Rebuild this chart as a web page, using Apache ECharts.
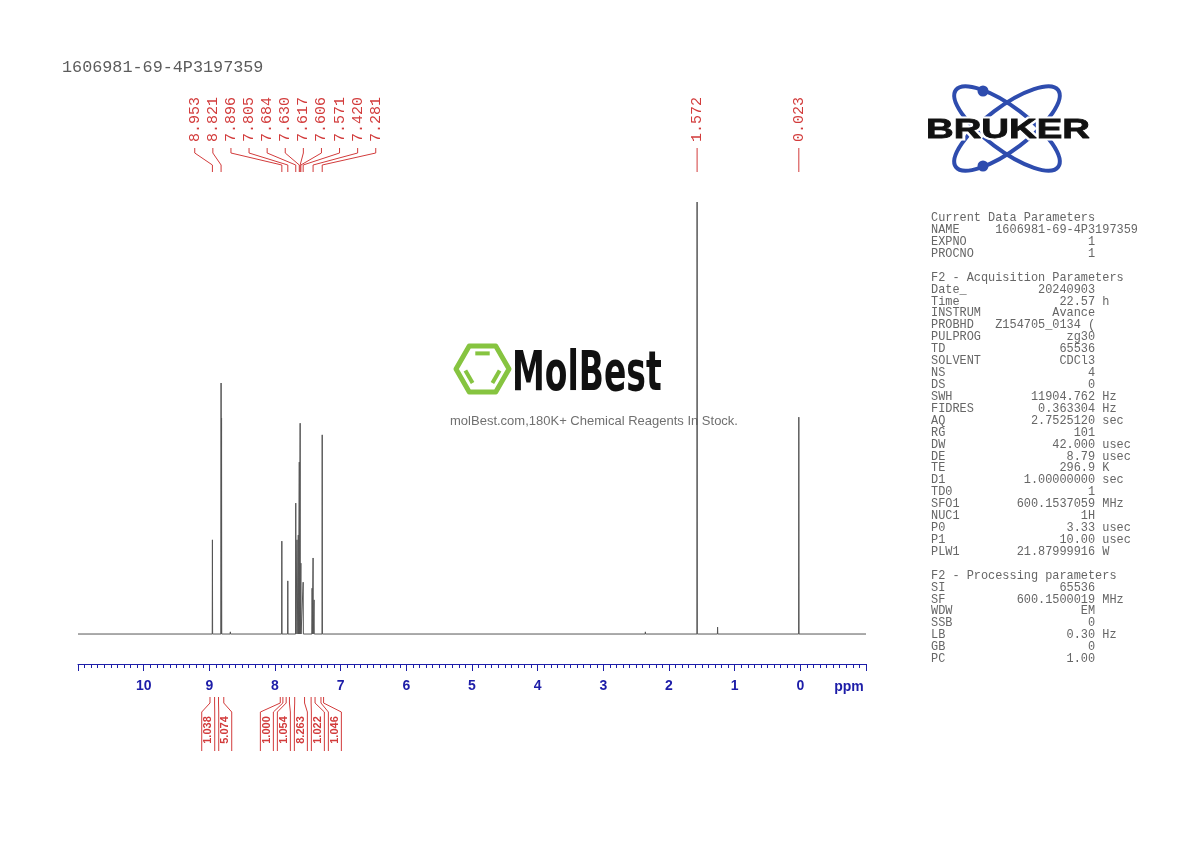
<!DOCTYPE html>
<html>
<head>
<meta charset="utf-8">
<title>1606981-69-4P3197359</title>
<script src="https://cdn.jsdelivr.net/npm/echarts@6/dist/echarts.min.js"></script>
<style>
    html, body { margin: 0; padding: 0; background: #fff; }
    #nmr-chart { width: 1190px; height: 842px; }
</style>
</head>
<body>
<div id="nmr-chart"></div>
<script>
// 峰位置 (ppm) 和峰高 (最高峰 = 100)
const peakPpm = [8.953, 8.821, 8.814, 8.680, 7.896, 7.805, 7.684, 7.665, 7.645, 7.630, 7.617, 7.606, 7.571,
    7.435, 7.420, 7.405, 7.281, 2.360, 1.572, 1.260, 0.870, 0.023];
const peakHeight = [21.8, 58.1, 50.0, 0.5, 21.5, 12.3, 30.3, 21.8, 22.9, 39.8, 48.8, 16.4, 12.0,
    10.6, 17.6, 7.9, 46.1, 0.5, 100, 1.6, 0.3, 50.2];

// 峰标注
const peakLabels = ['8.953', '8.821', '7.896', '7.805', '7.684', '7.630', '7.617', '7.606', '7.571', '7.420', '7.281', '1.572', '0.023'];

// 积分区间
const integralFrom = [8.99, 8.86, 7.92, 7.83, 7.70, 7.45, 7.30];
const integralTo = [8.92, 8.78, 7.88, 7.78, 7.55, 7.39, 7.26];
const integralValues = ['1.038', '5.074', '1.000', '1.054', '8.263', '1.022', '1.046'];

// 坐标刻度
const ppmTicks = [10, 9, 8, 7, 6, 5, 4, 3, 2, 1, 0];

// 参数表
const currentParams = [['NAME', '1606981-69-4P3197359', ''], ['EXPNO', '1', ''], ['PROCNO', '1', '']];
const acquisitionParams = [
    ['Date_', '20240903', ''], ['Time', '22.57', 'h'], ['INSTRUM', 'Avance', ''],
    ['PROBHD', 'Z154705_0134 (', ''], ['PULPROG', 'zg30', ''], ['TD', '65536', ''],
    ['SOLVENT', 'CDCl3', ''], ['NS', '4', ''], ['DS', '0', ''],
    ['SWH', '11904.762', 'Hz'], ['FIDRES', '0.363304', 'Hz'], ['AQ', '2.7525120', 'sec'],
    ['RG', '101', ''], ['DW', '42.000', 'usec'], ['DE', '8.79', 'usec'],
    ['TE', '296.9', 'K'], ['D1', '1.00000000', 'sec'], ['TD0', '1', ''],
    ['SFO1', '600.1537059', 'MHz'], ['NUC1', '1H', ''], ['P0', '3.33', 'usec'],
    ['P1', '10.00', 'usec'], ['PLW1', '21.87999916', 'W']
];
const processingParams = [
    ['SI', '65536', ''], ['SF', '600.1500019', 'MHz'], ['WDW', 'EM', ''],
    ['SSB', '0', ''], ['LB', '0.30', 'Hz'], ['GB', '0', ''], ['PC', '1.00', '']
];

const sampleName = '1606981-69-4P3197359';

const axisBlue = '#1d1da8';
const labelRed = '#d23b3b';

// 谱线: 每个峰画成窄尖峰
function spectrumData() {
    let data = [[11, 0]];
    peakPpm.forEach((p, i) => {
        data.push([p + 0.003, 0], [p, peakHeight[i]], [p - 0.003, 0]);
    });
    data.push([-1, 0]);
    return data;
}

function paramRow(r) {
    let s = r[0].padEnd(9) + r[1].padStart(14);
    return r[2] ? s + ' ' + r[2] : s;
}

function paramText() {
    let lines = ['Current Data Parameters'].concat(currentParams.map(paramRow));
    lines.push('', 'F2 - Acquisition Parameters');
    lines = lines.concat(acquisitionParams.map(paramRow));
    lines.push('', 'F2 - Processing parameters');
    lines = lines.concat(processingParams.map(paramRow));
    return lines.join('\n');
}

// 标注位置: 相距太近的标注成组均匀展开
function spreadSlots(xs, gap) {
    let groups = [];
    xs.forEach((x) => {
        groups.push({n: 1, sum: x});
        while (groups.length > 1) {
            let b = groups[groups.length - 1];
            let a = groups[groups.length - 2];
            let aEnd = a.sum / a.n + (a.n - 1) * gap / 2;
            let bStart = b.sum / b.n - (b.n - 1) * gap / 2;
            if (bStart - aEnd >= gap) {
                break;
            }
            a.n += b.n;
            a.sum += b.sum;
            groups.pop();
        }
    });
    let out = [];
    groups.forEach((g) => {
        let c = g.sum / g.n;
        for (let k = 0; k < g.n; k++) {
            out.push(c + (k - (g.n - 1) / 2) * gap);
        }
    });
    return out;
}

function hexagon(cx, cy, r) {
    let pts = [];
    for (let k = 0; k < 6; k++) {
        let a = k * Math.PI / 3;
        pts.push([cx + r * Math.cos(a), cy + r * Math.sin(a)]);
    }
    return pts;
}

function innerBond(cx, cy, pts, i, j) {
    let s = 0.68;
    let p = [cx + (pts[i][0] - cx) * s, cy + (pts[i][1] - cy) * s];
    let q = [cx + (pts[j][0] - cx) * s, cy + (pts[j][1] - cy) * s];
    let t = 0.1;
    return [[p[0] + (q[0] - p[0]) * t, p[1] + (q[1] - p[1]) * t],
        [q[0] + (p[0] - q[0]) * t, q[1] + (p[1] - q[1]) * t]];
}

const hexCx = 482.5, hexCy = 369, hexR = 26.5;
const hexPts = hexagon(hexCx, hexCy, hexR);
const molGreen = '#86c440';
const brukerBlue = '#2e4cae';

let chart = echarts.init(document.getElementById('nmr-chart'));

let option = {
    animation: false,
    grid: {left: 78, right: 324, top: 202, bottom: 178},
    xAxis: {
        type: 'value',
        min: -1,
        max: 11,
        interval: 1,
        inverse: true,
        axisLine: {onZero: false, lineStyle: {color: axisBlue, width: 1}},
        axisTick: {length: 7, lineStyle: {color: axisBlue}},
        minorTick: {show: true, splitNumber: 10, length: 4, lineStyle: {color: axisBlue}},
        axisLabel: {
            margin: 15,
            color: axisBlue,
            fontSize: 14,
            fontWeight: 'bold',
            fontFamily: 'Liberation Sans',
            formatter: (v) => ppmTicks.indexOf(v) >= 0 ? String(v) : ''
        },
        splitLine: {show: false}
    },
    yAxis: {type: 'value', min: -6.94, max: 100, show: false},
    graphic: [
        {
            type: 'text', x: 62, y: 68, z: 0,
            style: {text: sampleName, font: '16.8px "Liberation Mono"', fill: '#5c5c5c', align: 'left', verticalAlign: 'middle'}
        },
        {
            type: 'text', x: 849, y: 687, z: 0,
            style: {text: 'ppm', font: 'bold 14px "Liberation Sans"', fill: axisBlue, align: 'center', verticalAlign: 'middle'}
        },
        {
            type: 'text', x: 931, y: 212, z: 0,
            style: {text: paramText(), font: '11.9px "Liberation Mono"', lineHeight: 11.92, fill: '#666', align: 'left', verticalAlign: 'top'}
        },
        // BRUKER 标志
        {
            type: 'ellipse', x: 1007, y: 128.5, rotation: -37 * Math.PI / 180, z: 0,
            shape: {cx: 0, cy: 0, rx: 64, ry: 21.5},
            style: {fill: null, stroke: brukerBlue, lineWidth: 4}
        },
        {
            type: 'ellipse', x: 1007, y: 128.5, rotation: 37 * Math.PI / 180, z: 0,
            shape: {cx: 0, cy: 0, rx: 64, ry: 21.5},
            style: {fill: null, stroke: brukerBlue, lineWidth: 4}
        },
        {type: 'circle', z: 0, shape: {cx: 983, cy: 91, r: 5.5}, style: {fill: brukerBlue}},
        {type: 'circle', z: 0, shape: {cx: 983, cy: 166, r: 5.5}, style: {fill: brukerBlue}},
        {
            type: 'text', x: 1008, y: 130, scaleX: 1.37, z: 1,
            style: {text: 'BRUKER', font: 'bold 28px "Liberation Sans"', fill: '#fff', stroke: '#fff', lineWidth: 5, align: 'center', verticalAlign: 'middle'}
        },
        {
            type: 'text', x: 1008, y: 130, scaleX: 1.37, z: 2,
            style: {text: 'BRUKER', font: 'bold 28px "Liberation Sans"', fill: '#111', stroke: '#111', lineWidth: 0.8, align: 'center', verticalAlign: 'middle'}
        },
        // MolBest 水印
        {
            type: 'polygon', z: 0,
            shape: {points: hexPts},
            style: {fill: null, stroke: molGreen, lineWidth: 5, lineJoin: 'round'}
        },
        {type: 'polyline', z: 0, shape: {points: innerBond(hexCx, hexCy, hexPts, 4, 5)}, style: {stroke: molGreen, lineWidth: 4}},
        {type: 'polyline', z: 0, shape: {points: innerBond(hexCx, hexCy, hexPts, 2, 3)}, style: {stroke: molGreen, lineWidth: 4}},
        {type: 'polyline', z: 0, shape: {points: innerBond(hexCx, hexCy, hexPts, 0, 1)}, style: {stroke: molGreen, lineWidth: 4}},
        {
            type: 'text', x: 512, y: 376, scaleX: 0.6, z: 0,
            style: {text: 'MolBest', font: 'bold 55px "DejaVu Sans"', fill: '#111', align: 'left', verticalAlign: 'middle'}
        },
        {
            type: 'text', x: 594, y: 421, z: 0,
            style: {text: 'molBest.com,180K+ Chemical Reagents In Stock.', font: '13px "Liberation Sans"', fill: '#707070', align: 'center', verticalAlign: 'middle'}
        }
    ],
    series: [
        {
            id: 'spectrum',
            type: 'line',
            data: spectrumData(),
            showSymbol: false,
            silent: true,
            z: 3,
            lineStyle: {color: '#555', width: 1}
        }
    ]
};
chart.setOption(option);

// 根据坐标轴换算标注位置
let peakX = peakLabels.map((l) => chart.convertToPixel({xAxisIndex: 0}, parseFloat(l)));
let peakSlots = spreadSlots(peakX, 18.1);
let integralX = integralFrom.map((f, i) => chart.convertToPixel({xAxisIndex: 0}, (f + integralTo[i]) / 2));
let integralSlots = spreadSlots(integralX, 17);

chart.setOption({
    series: [
        {id: 'spectrum'},
        {
            id: 'peak-labels',
            type: 'custom',
            coordinateSystem: 'cartesian2d',
            clip: false,
            silent: true,
            data: peakLabels.map((l) => [parseFloat(l), 0]),
            encode: {x: 0, y: 1},
            renderItem: (params, api) => {
                let i = params.dataIndex;
                let px = api.coord([api.value(0), 0])[0];
                let sx = peakSlots[i];
                return {
                    type: 'group',
                    children: [
                        {
                            type: 'text', x: sx, y: 119.5, rotation: Math.PI / 2,
                            style: {text: peakLabels[i], font: '15px "Liberation Mono"', fill: labelRed, align: 'center', verticalAlign: 'middle'}
                        },
                        {
                            type: 'polyline',
                            shape: {points: [[sx, 148], [sx, 153], [px, 165], [px, 172]]},
                            style: {stroke: labelRed, lineWidth: 1, fill: null}
                        }
                    ]
                };
            }
        },
        {
            id: 'integrals',
            type: 'custom',
            coordinateSystem: 'cartesian2d',
            clip: false,
            silent: true,
            data: integralFrom.map((f, i) => [f, integralTo[i], 0]),
            encode: {x: [0, 1], y: 2},
            renderItem: (params, api) => {
                let i = params.dataIndex;
                let x1 = api.coord([api.value(0), 0])[0];
                let x2 = api.coord([api.value(1), 0])[0];
                let s = integralSlots[i];
                return {
                    type: 'group',
                    children: [
                        {
                            type: 'polyline',
                            shape: {points: [[x1, 697], [x1, 703], [s - 6.5, 712], [s - 6.5, 751]]},
                            style: {stroke: labelRed, lineWidth: 1, fill: null}
                        },
                        {
                            type: 'polyline',
                            shape: {points: [[x2, 697], [x2, 703], [s + 6.5, 712], [s + 6.5, 751]]},
                            style: {stroke: labelRed, lineWidth: 1, fill: null}
                        },
                        {
                            type: 'text', x: s, y: 730, rotation: Math.PI / 2,
                            style: {text: integralValues[i], font: 'bold 11px "Liberation Sans"', fill: labelRed, align: 'center', verticalAlign: 'middle'}
                        }
                    ]
                };
            }
        }
    ]
});
</script>
</body>
</html>
